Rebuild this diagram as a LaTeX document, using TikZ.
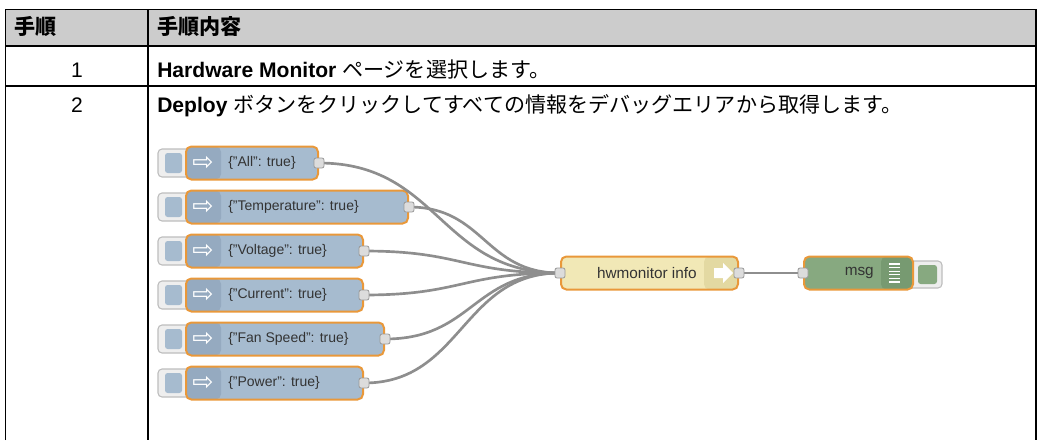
\documentclass[tikz,border=0pt]{standalone}
\usepackage{fontspec}
\setmainfont{Liberation Sans}
\newfontfamily\jpfont{Noto Sans CJK JP}
\newfontfamily\symfont{DejaVu Sans}
\usepackage{tikz}
\usetikzlibrary{positioning,calc}
\usepackage{xcolor}
\definecolor{hdrgray}{HTML}{CCCCCC}
\definecolor{injblue}{HTML}{A6BBCF}
\definecolor{injdark}{HTML}{95AAC0}
\definecolor{nrorange}{HTML}{E9983A}
\definecolor{fnyellow}{HTML}{F1E8B6}
\definecolor{fndark}{HTML}{E3D9A2}
\definecolor{dbggreen}{HTML}{87A980}
\definecolor{dbgdark}{HTML}{779A71}
\definecolor{portgray}{HTML}{DCDCDC}
\definecolor{portline}{HTML}{999999}
\definecolor{wiregray}{HTML}{8E8E8E}
\definecolor{btnfill}{HTML}{EEEEEE}
\definecolor{btnline}{HTML}{BDBDBD}
\definecolor{txtdark}{HTML}{333333}

\tikzset{
    tabline/.style={line width=1.1pt, draw=black},
    cell/.style={anchor=base west, inner sep=0pt, font=\fontsize{15.8}{18}\selectfont},
    flownode/.style={draw=nrorange, line width=1.5pt, rounded corners=4pt,
        minimum height=24.75pt, inner sep=0pt, anchor=west},
    injnode/.style={flownode, fill=injblue,
        path picture={
            \fill[injdark] (path picture bounding box.north west) rectangle
                ([xshift=26.25pt]path picture bounding box.south west);
        }},
    injtext/.style={inner sep=0pt, text=txtdark, font=\fontsize{10.5}{12}\selectfont},
    injicon/.style={inner sep=0pt, text=white, font=\symfont\fontsize{19}{19}\selectfont},
    fntext/.style={inner sep=0pt, text=txtdark, font=\fontsize{11.5}{13}\selectfont},
    btnbox/.style={draw=btnline, fill=btnfill, line width=0.8pt, rounded corners=3pt},
    port/.style={draw=portline, fill=portgray, line width=0.6pt, rounded corners=1.5pt,
        minimum size=7.5pt, inner sep=0pt},
    wire/.style={draw=wiregray, line width=2pt}
}

\begin{document}
\begin{tikzpicture}[x=0.75pt, y=-0.75pt]
    \useasboundingbox (0,0) rectangle (1039,440);

    % Table frame
    \fill[hdrgray] (5.5,9.5) rectangle (1036,46);
    \draw[tabline] (5.5,440) -- (5.5,9.5) -- (1036,9.5) -- (1036,440);
    \draw[tabline] (5.5,46) -- (1036,46);
    \draw[tabline] (5.5,86) -- (1036,86);
    \draw[tabline] (148,9.5) -- (148,440);

    % Header and rows
    \node[cell] (hdrStep) at (14,34) {\jpfont\bfseries 手順};
    \node[cell] (hdrText) at (157,34) {\jpfont\bfseries 手順内容};
    \node[cell, anchor=base] (num1) at (77,77) {1};
    \node[cell] (row1) at (157,77) {\textbf{Hardware Monitor} {\jpfont ページを選択します。}};
    \node[cell, anchor=base] (num2) at (77,112) {2};
    \node[cell] (row2) at (157,112) {\textbf{Deploy} {\jpfont ボタンをクリックしてすべての情報をデバッグエリアから取得します。}};

    % Inject nodes
    \foreach \nm/\txt/\w [count=\i from 0] in {all/All/99pt, temp/Temperature/166.5pt,
            volt/Voltage/132.75pt, curr/Current/132.75pt, fan/Fan Speed/148.5pt, pwr/Power/132.75pt} {
        \pgfmathsetmacro{\yc}{163+44*\i}
        \draw[btnbox] (158,\yc-14) rectangle (196,\yc+14);
        \fill[injblue, rounded corners=2pt] (165,\yc-10) rectangle (182,\yc+10);
        \node[injnode, minimum width=\w] (\nm) at (185,\yc) {};
        \node[injicon] (\nm-icon) at ([xshift=13.5pt]\nm.west) {⇨};
        \node[injtext, right=32.25pt of \nm.west] (\nm-txt) {\{"\txt": true\}};
    }

    % Function node
    \node[flownode, fill=fnyellow, minimum width=132.75pt,
        path picture={\fill[fndark] ([xshift=-25.5pt]path picture bounding box.north east)
            rectangle (path picture bounding box.south east);}] (hw) at (560,273) {};
    \node[fntext, left=31.5pt of hw.east] (hw-txt) {hwmonitor info};
    \fill[white] ($(hw.east)+(-25,-5)$) -- ($(hw.east)+(-16,-5)$) -- ($(hw.east)+(-16,-10)$)
        -- ($(hw.east)+(-6,0)$) -- ($(hw.east)+(-16,10)$) -- ($(hw.east)+(-16,5)$)
        -- ($(hw.east)+(-25,5)$) -- cycle;

    % Debug node
    \draw[btnbox] (900,261) rectangle (942,288);
    \fill[dbggreen, rounded corners=2pt] (918,265) rectangle (937,284);
    \node[flownode, fill=dbggreen, minimum width=81.75pt,
        path picture={\fill[dbgdark] ([xshift=-24pt]path picture bounding box.north east)
            rectangle (path picture bounding box.south east);}] (msg) at (803,273) {};
    \node[fntext, left=30pt of msg.east] (msg-txt) {msg};
    \foreach \k in {0,...,5}
        \draw[white, line width=0.9pt] ($(msg.east)+(-25,-9+3.6*\k)$) -- ($(msg.east)+(-14,-9+3.6*\k)$);

    % Wires
    \foreach \nm in {all,temp,volt,curr,fan,pwr}
        \draw[wire] let \p1=(\nm.east), \p2=(hw.west) in
            (\p1) .. controls ({(\x1+\x2)/2},\y1) and ({(\x1+\x2)/2},\y2) .. (\p2);
    \draw[wire] (hw.east) -- (msg.west);

    % Ports
    \foreach \nm in {all,temp,volt,curr,fan,pwr}
        \node[port] (\nm-out) at (\nm.east) {};
    \node[port] (hw-in) at (hw.west) {};
    \node[port] (hw-out) at (hw.east) {};
    \node[port] (msg-in) at (msg.west) {};
\end{tikzpicture}
\end{document}
